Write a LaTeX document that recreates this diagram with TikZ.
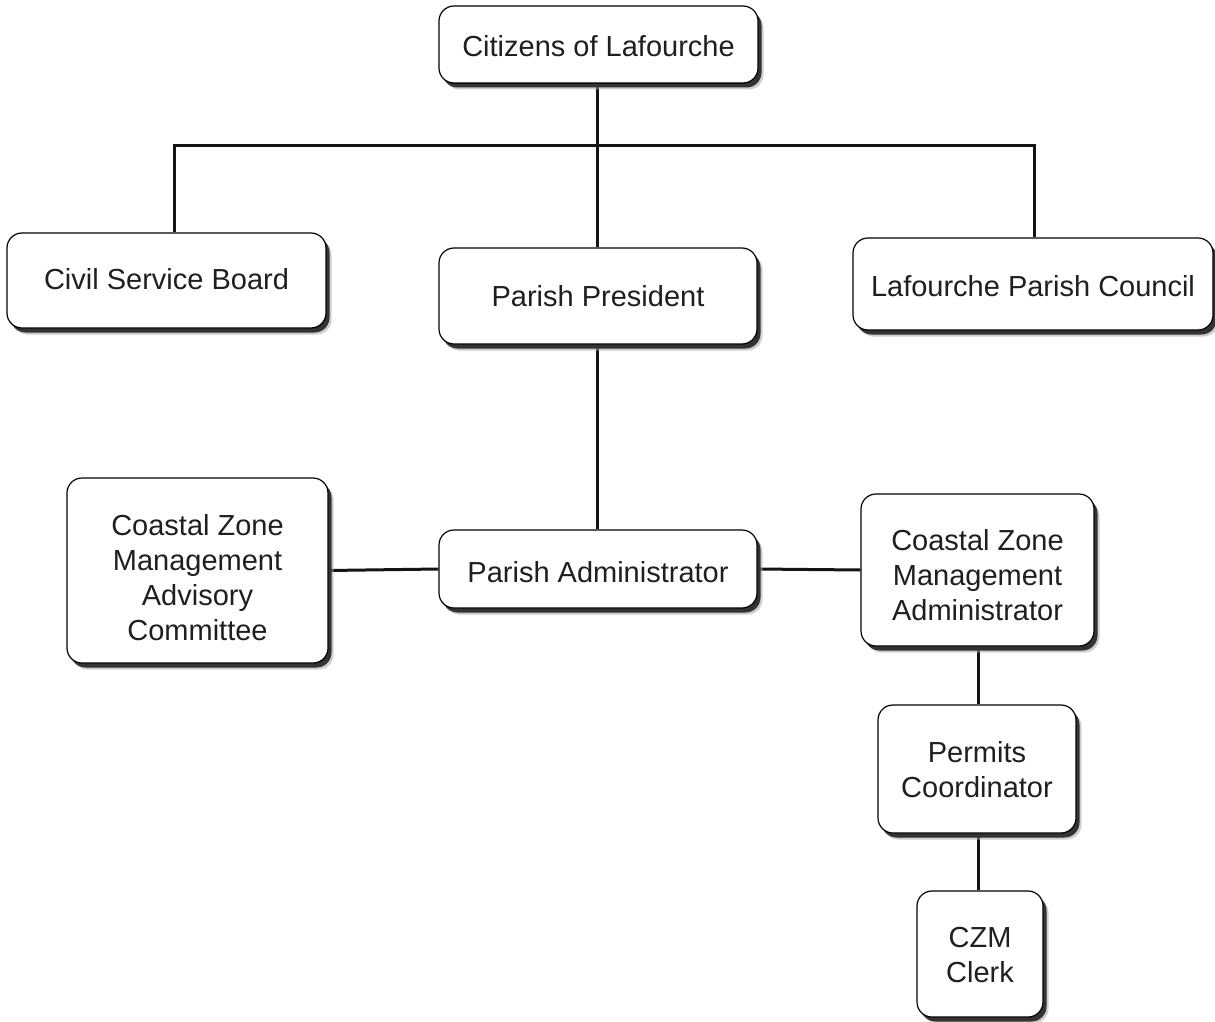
\documentclass[tikz,border=0pt]{standalone}
\usepackage{fontspec}
\setmainfont{Liberation Sans}
\usetikzlibrary{shadows,backgrounds}
\tikzset{
  box/.style={draw=black, line width=1.2pt, fill=white, rounded corners=15pt,
    inner sep=0pt,
    general shadow={shadow xshift=5.5pt, shadow yshift=-6.5pt, fill=black!35, opacity=0.55},
    general shadow={shadow xshift=3.5pt, shadow yshift=-4.5pt, fill=black!80}},
  txt/.style={align=center, inner sep=0pt, text=black!88,
    font=\fontsize{29}{35}\selectfont, label distance=0pt},
  link/.style={line width=3pt, draw=black!92}
}
\begin{document}
\begin{tikzpicture}[x=1pt,y=-1pt]
\useasboundingbox (0,0) rectangle (1215,1022);
\node[box, minimum width=319pt, minimum height=77pt,
  label={[txt, yshift=-1.5pt]center:Citizens of Lafourche}] (cit) at (598.5,44.5) {};
\node[box, minimum width=319pt, minimum height=95pt,
  label={[txt, yshift=1pt]center:Civil Service Board}] (csb) at (166.5,280.5) {};
\node[box, minimum width=318pt, minimum height=96pt,
  label={[txt]center:Parish President}] (pp) at (598,296) {};
\node[box, minimum width=360pt, minimum height=92pt,
  label={[txt, yshift=-2pt]center:Lafourche Parish Council}] (lpc) at (1033,284) {};
\node[box, minimum width=261pt, minimum height=185pt,
  label={[txt, yshift=-7pt]center:{Coastal Zone\\Management\\Advisory\\Committee}}] (adv) at (197.5,570.5) {};
\node[box, minimum width=318pt, minimum height=78pt,
  label={[txt, yshift=-3pt]center:Parish Administrator}] (pa) at (598,569) {};
\node[box, minimum width=233pt, minimum height=152pt,
  label={[txt, yshift=-5.5pt]center:{Coastal Zone\\Management\\Administrator}}] (cza) at (977.5,570) {};
\node[box, minimum width=198pt, minimum height=128pt,
  label={[txt, yshift=-0.5pt]center:{Permits\\Coordinator}}] (pc) at (977,769) {};
\node[box, minimum width=126pt, minimum height=126pt,
  label={[txt, yshift=-1pt]center:{CZM\\Clerk}}] (clerk) at (980,954) {};
\coordinate (bus) at (597,146);
\begin{scope}[on background layer]
\draw[link] ([xshift=-1.5pt]cit.south) -- ([xshift=-1pt]pp.north);
\draw[link] ([xshift=7.5pt]csb.north) |- (bus) -| ([xshift=1pt]lpc.north);
\draw[link] ([xshift=-1pt]pp.south) -- ([xshift=-1pt]pa.north);
\draw[link] (adv.east) -- (pa.west);
\draw[link] (pa.east) -- (cza.west);
\draw[link] ([xshift=0.5pt]cza.south) -- ([xshift=1pt]pc.north);
\draw[link] ([xshift=1pt]pc.south) -- ([xshift=-2pt]clerk.north);
\end{scope}
\end{tikzpicture}
\end{document}
